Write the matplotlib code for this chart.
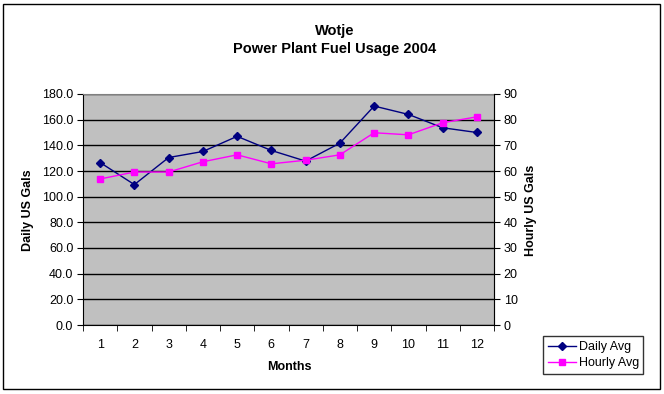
import numpy as np
import matplotlib
matplotlib.use('Agg')
from matplotlib import pyplot as plt
from matplotlib.patches import Rectangle

plt.rcParams['font.family'] = ['Liberation Sans', 'DejaVu Sans']

# Wotje power plant fuel usage 2004
months = [1, 2, 3, 4, 5, 6, 7, 8, 9, 10, 11, 12]
daily_avg = [126.6, 109.4, 130.5, 135.2, 147.0, 136.0, 127.7, 141.7, 170.6, 164.1, 153.7, 150.0]
hourly_avg = [56.9, 59.6, 59.6, 63.6, 66.3, 62.8, 64.2, 66.3, 74.9, 74.1, 78.8, 81.1]

fig = plt.figure(figsize=(6.64, 3.94), dpi=100)
fig.patches.append(Rectangle((3/664, 5/394), 657/664, 385/394, transform=fig.transFigure,
                             fill=False, edgecolor='black', linewidth=1.0))

ax = fig.add_axes([83/664, 69/394, 411/664, 231/394])
ax.set_facecolor('#c0c0c0')
ax2 = ax.twinx()

ax.plot(months, daily_avg, color='#000080', marker='D', markersize=4, linewidth=1.0, label='Daily Avg')
ax2.plot(months, hourly_avg, color='#ff00ff', marker='s', markersize=5, linewidth=1.0, label='Hourly Avg')

ax.set_xlim(0.5, 12.5)
ax.set_ylim(0, 180)
ax.set_yticks(np.arange(0, 181, 20))
ax.set_yticklabels(['%.1f' % v for v in np.arange(0, 181, 20)])
ax2.set_ylim(0, 90)
ax2.set_yticks(np.arange(0, 91, 10))

ax.set_xticks(months)
ax.set_xticks(np.arange(0.5, 13, 1), minor=True)
ax.tick_params(axis='x', which='major', length=0, labelsize=9, pad=10)
ax.tick_params(axis='x', which='minor', length=4, direction='out')
ax.tick_params(axis='y', length=4, direction='out', labelsize=9, pad=3)
ax2.tick_params(axis='y', length=4, direction='out', labelsize=9, pad=3)

ax.grid(axis='y', color='black', linewidth=1.0)
ax.set_axisbelow(True)
for sp in ['top', 'right']:
    ax.spines[sp].set_color('#808080')
for sp in ['left', 'bottom']:
    ax.spines[sp].set_color('black')
ax2.spines['top'].set_visible(False)
ax2.spines['left'].set_visible(False)
ax2.spines['bottom'].set_visible(False)

fig.text(335/664, 1 - 31/394, 'Wotje', ha='center', va='center', fontsize=10.5, fontweight='bold')
fig.text(335/664, 1 - 49/394, 'Power Plant Fuel Usage 2004', ha='center', va='center', fontsize=10.5, fontweight='bold')
fig.text(28/664, 1 - 210/394, 'Daily US Gals', ha='center', va='center', rotation=90, fontsize=9, fontweight='bold')
fig.text(531/664, 1 - 210/394, 'Hourly US Gals', ha='center', va='center', rotation=90, fontsize=9, fontweight='bold')
fig.text(289/664, 1 - 367/394, 'Months', ha='center', va='center', fontsize=9, fontweight='bold')

h1, l1 = ax.get_legend_handles_labels()
h2, l2 = ax2.get_legend_handles_labels()
leg = fig.legend(h1 + h2, l1 + l2, loc='lower left', bbox_to_anchor=(543/664, 20/394, 100/664, 43/394),
                 mode='expand', fontsize=9, frameon=True, fancybox=False, borderaxespad=0,
                 handlelength=2.2, handletextpad=0.3, labelspacing=0.3, borderpad=0.4)
leg.get_frame().set_edgecolor('black')
leg.get_frame().set_linewidth(1.0)

fig.savefig('out.png', dpi=100)
